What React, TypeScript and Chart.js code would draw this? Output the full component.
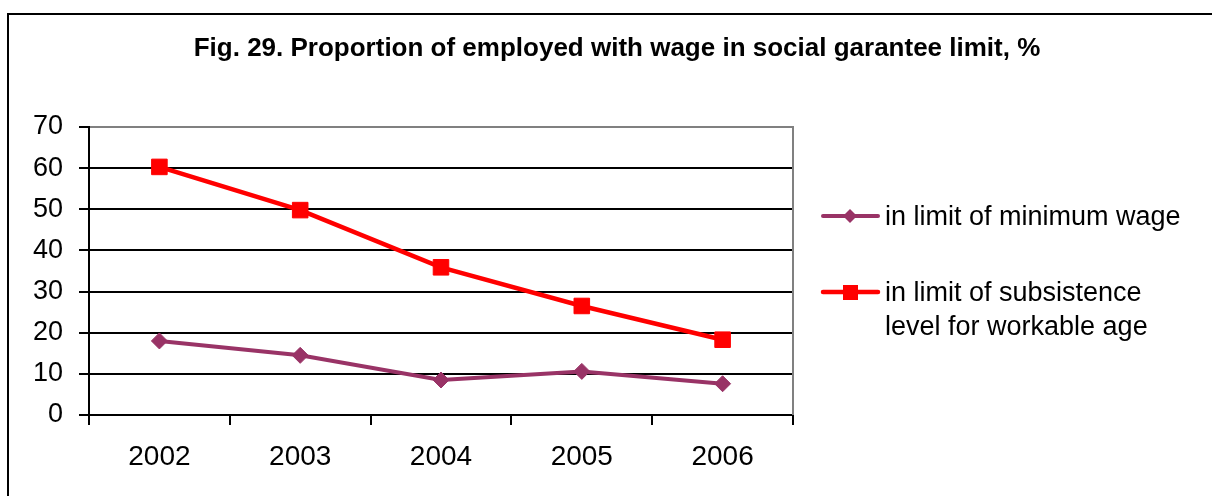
import React, { useEffect, useRef } from "react";
import { Chart, registerables } from "chart.js";

Chart.register(...registerables);

const years = ["2002", "2003", "2004", "2005", "2006"];
const minimumWage = [18.0, 14.5, 8.5, 10.6, 7.6];
const subsistence = [60.3, 49.8, 35.9, 26.5, 18.3];
const seriesNames = ["in limit of minimum wage", "in limit of subsistence level for workable age"];
const legendLines = [["in limit of minimum wage"], ["in limit of subsistence", "level for workable age"]];
const titleText = "Fig. 29. Proportion of employed with wage in social garantee limit, %";

const PURPLE = "#993366";
const RED = "#FF0000";
const FONT = '"Liberation Sans", Arial, sans-serif';

const decorPlugin = {
  id: "decor",
  afterDraw(chart: any) {
    const ctx = chart.ctx;
    const area = chart.chartArea;
    ctx.save();
    // outer frame
    ctx.strokeStyle = "#000";
    ctx.lineWidth = 2;
    ctx.strokeRect(8, 14, 1400, 700);
    // right plot border
    ctx.strokeStyle = "#808080";
    ctx.lineWidth = 2;
    ctx.beginPath();
    ctx.moveTo(area.right, area.top - 1);
    ctx.lineTo(area.right, area.bottom);
    ctx.stroke();
    // title
    ctx.fillStyle = "#000";
    ctx.font = `bold 26px ${FONT}`;
    ctx.textAlign = "center";
    ctx.textBaseline = "alphabetic";
    ctx.fillText(titleText, 617, 56);
    // legend
    const items = [
      { color: PURPLE, style: "diamond", y: 216, lines: legendLines[0], lw: 4 },
      { color: RED, style: "square", y: 292, lines: legendLines[1], lw: 4.5 },
    ];
    for (const it of items) {
      ctx.strokeStyle = it.color;
      ctx.fillStyle = it.color;
      ctx.lineWidth = it.lw;
      ctx.lineCap = "round";
      ctx.beginPath();
      ctx.moveTo(823, it.y);
      ctx.lineTo(878, it.y);
      ctx.stroke();
      if (it.style === "diamond") {
        ctx.beginPath();
        ctx.moveTo(850, it.y - 7);
        ctx.lineTo(857, it.y);
        ctx.lineTo(850, it.y + 7);
        ctx.lineTo(843, it.y);
        ctx.closePath();
        ctx.fill();
      } else {
        ctx.fillRect(843, it.y - 7, 15, 15);
      }
      ctx.fillStyle = "#000";
      ctx.font = `27px ${FONT}`;
      ctx.textAlign = "left";
      ctx.textBaseline = "middle";
      it.lines.forEach((line: string, i: number) => {
        ctx.fillText(line, 885, it.y + 2 + i * 34);
      });
    }
    ctx.restore();
  },
};

export default function App() {
  const ref = useRef<HTMLCanvasElement | null>(null);
  useEffect(() => {
    if (!ref.current) return;
    const chart = new Chart(ref.current, {
      type: "line",
      data: {
        labels: years,
        datasets: [
          {
            label: seriesNames[0],
            data: minimumWage,
            borderColor: PURPLE,
            backgroundColor: PURPLE,
            borderWidth: 4,
            pointStyle: "rectRot",
            pointRadius: 8,
            pointBorderWidth: 1,
            pointBorderColor: PURPLE,
            pointBackgroundColor: PURPLE,
            tension: 0,
          },
          {
            label: seriesNames[1],
            data: subsistence,
            borderColor: RED,
            backgroundColor: RED,
            borderWidth: 4.5,
            pointStyle: "rect",
            pointRadius: 11,
            pointBorderWidth: 1,
            pointBorderColor: RED,
            pointBackgroundColor: RED,
            tension: 0,
          },
        ],
      },
      options: {
        responsive: false,
        animation: false,
        devicePixelRatio: 1,
        layout: { padding: { top: 127, right: 419, left: 0, bottom: 0 } },
        plugins: { legend: { display: false }, title: { display: false }, tooltip: { enabled: false } },
        scales: {
          x: {
            type: "category",
            offset: true,
            grid: {
              offset: true,
              drawOnChartArea: false,
              drawTicks: true,
              tickLength: 10,
              tickColor: "#000",
              tickWidth: 2,
              lineWidth: 2,
              color: "#000",
            },
            border: { color: "#000", width: 2 },
            ticks: {
              color: "#000",
              font: { family: FONT, size: 28 },
              padding: 15,
              maxRotation: 0,
              autoSkip: false,
            },
            afterFit: (s: any) => {
              s.height = 81;
            },
          },
          y: {
            min: 0,
            max: 70,
            ticks: {
              stepSize: 10,
              color: "#000",
              font: { family: FONT, size: 27 },
              padding: 16,
            },
            grid: {
              color: (c: any) => (c.tick && c.tick.value === 70 ? "#808080" : "#000"),
              lineWidth: 2,
              tickLength: 10,
              tickColor: "#000",
              tickWidth: 2,
            },
            border: { color: "#000", width: 2 },
            afterFit: (s: any) => {
              s.width = 89;
            },
          },
        },
      },
      plugins: [decorPlugin],
    } as any);
    return () => chart.destroy();
  }, []);
  return (
    <div style={{ position: "absolute", left: 0, top: 0, width: 1212, height: 496, background: "#fff" }}>
      <canvas ref={ref} width={1212} height={496} style={{ display: "block" }} />
    </div>
  );
}
